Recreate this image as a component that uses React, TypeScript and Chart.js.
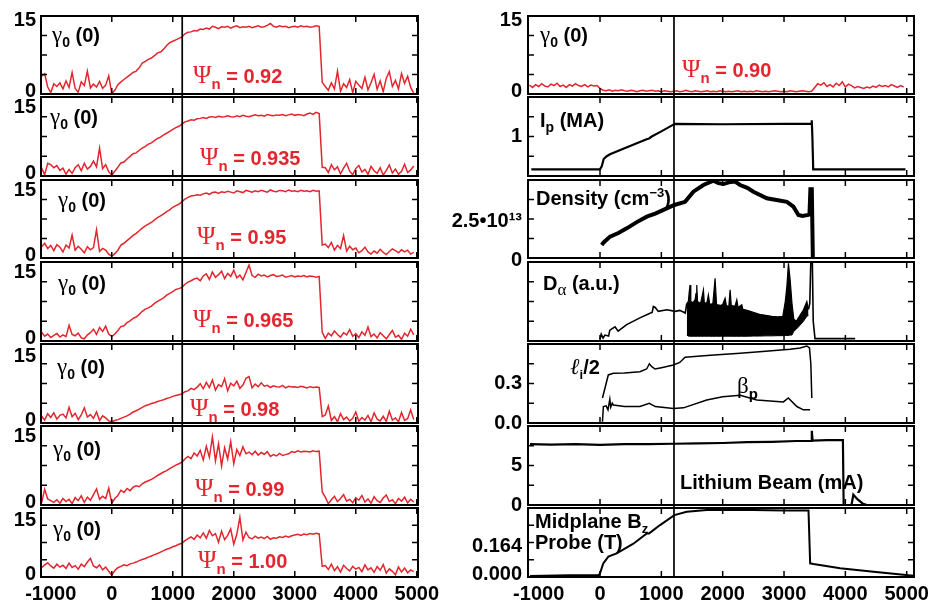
import React, { useEffect, useRef } from "react";
import { Chart, registerables } from "chart.js";

Chart.register(...registerables);

const RED = "#e3262e";
const SANS = '"Liberation Sans", Arial, Helvetica, sans-serif';
const SERIF = '"Liberation Serif", "Times New Roman", serif';

// ---------------- DATA ----------------
// sample times (ms) of the gamma0(0) traces
const gammaTimes = [
  -1150, -1100, -1050, -1000, -950, -900, -850, -800, -750, -700, -650, -600, -550, -500, -450, -400, -350, -300, -250, -200, -150, -100, -50,
  0,
  50, 100, 150, 200, 250, 300, 350, 400, 450, 500, 550, 600, 650, 700, 750, 800, 850, 900, 950, 1000, 1050, 1100, 1150,
  1200, 1250, 1300, 1350, 1400, 1450, 1500, 1550, 1600, 1650, 1700, 1750, 1800, 1850, 1900, 1950, 2000, 2050, 2100, 2150, 2200, 2250,
  2300, 2350, 2400, 2450, 2500, 2550, 2600, 2650, 2700, 2750, 2800, 2850, 2900, 2950, 3000, 3050, 3100, 3150, 3200, 3250, 3300, 3350, 3400,
  3450,
  3500, 3550, 3600, 3650, 3700, 3750, 3800, 3850, 3900, 3950, 4000, 4050, 4100, 4150, 4200, 4250, 4300, 4350, 4400, 4450, 4500, 4550,
  4600, 4650, 4700, 4750, 4800, 4850, 4900, 4950,
];

const gamma092 = [
  3.8, 4.3, 1.5, 0.3, 2.2, 1.6, 2.4, 1.1, 2.8, 1.4, 4.6, 1.2, 0.4, 2.6, 1.8, 4.9, 1.3, 2.1, 1.5, 2.7, 1.2, 1.9, 3.9,
  0.1,
  0.8, 2.0, 2.6, 3.1, 3.6, 4.1, 4.6, 4.9, 5.6, 6.6, 7.0, 7.4, 7.7, 8.2, 8.8, 9.0, 9.6, 10.4, 11.0, 11.3, 11.6, 11.9, 12.2,
  12.9, 13.2, 13.3, 13.6, 13.5, 13.9, 13.8, 14.1, 13.9, 14.5, 14.3, 14.0, 14.4, 14.3, 14.5, 14.1, 14.4, 14.6, 14.2, 14.4, 14.3, 14.5,
  14.2, 14.4, 14.6, 14.3, 14.4, 14.7, 15.1, 14.5, 14.3, 14.6, 14.4, 14.5, 14.2, 14.4, 14.5, 14.3, 14.6, 14.4, 14.5, 14.3, 14.4, 14.6, 14.5,
  2.5,
  1.6, 0.8, 2.4, 1.1, 4.9, 0.6, 2.2, 1.4, 3.1, 0.3, 2.7, 1.9, 1.2, 3.6, 0.9, 2.4, 4.2, 1.0, 2.8, 0.5, 3.4, 4.8, 1.6, 2.9, 1.1, 4.4, 2.3, 3.8, 1.4, 0.2,
];
const gamma0935 = [
  1.8, 0.3, 2.9, 2.6, 1.9, 2.4, 1.3, 1.8, 0.4, 1.5, 0.6, 1.9, 2.6, 1.2, 2.9, 1.6, 2.2, 3.4, 2.1, 6.4, 1.7, 2.6, 1.0,
  0.2,
  1.1, 2.0, 3.0, 3.2, 3.9, 4.5, 5.1, 5.3, 5.9, 6.4, 6.8, 7.3, 7.6, 8.1, 8.6, 8.9, 9.4, 9.8, 10.2, 10.7, 11.1, 11.4, 11.9,
  12.4, 12.6, 12.9, 12.8, 13.1, 13.2, 13.4, 13.2, 13.5, 13.6, 13.4, 13.7, 13.5, 13.6, 13.8, 13.6, 13.5, 13.8, 13.6, 13.9, 13.7, 13.6,
  13.8, 14.0, 13.8, 13.9, 13.7, 14.1, 13.9, 13.8, 14.0, 13.9, 14.1, 13.8, 14.0, 14.2, 13.9, 14.1, 14.0, 13.8, 14.2, 14.4, 14.1, 14.6, 14.3,
  2.0,
  1.9, 0.8, 2.6, 1.4, 2.1, 0.5, 1.8, 2.9, 1.1, 0.3, 1.7, 2.4, 0.9, 1.5, 0.4, 2.2, 1.2, 0.6, 1.9, 0.2, 1.3, 2.5, 0.7, 1.6, 0.4, 1.1, 2.7, 0.8, 1.4, 2.3,
];
const gamma095 = [
  2.6, 3.4, 2.2, 2.9, 1.7, 3.1, 2.5, 1.4, 3.0, 2.3, 5.3, 1.8, 2.7, 2.0, 1.2, 2.6, 1.9, 2.4, 6.5, 1.5, 2.2, 1.8, 0.9,
  0.4,
  1.0, 1.8, 3.0, 3.4, 4.0, 4.6, 5.2, 5.7, 6.3, 6.9, 7.4, 7.8, 8.2, 8.8, 9.3, 9.7, 10.2, 10.7, 11.1, 11.7, 12.1, 12.4, 13.0,
  13.6, 14.0, 14.3, 14.4, 14.6, 14.5, 14.8, 15.0, 14.7, 15.1, 15.2, 14.9, 15.3, 15.1, 15.4, 15.2, 15.0, 15.5, 15.3, 15.1, 15.6, 15.4,
  15.2, 15.5, 15.3, 15.6, 15.4, 15.2, 15.7, 15.4, 15.3, 15.6, 15.5, 15.3, 15.7, 15.4, 15.5, 15.3, 15.6, 15.4, 15.5, 15.3, 15.6, 15.4, 15.5,
  3.0,
  3.2, 2.4, 3.6, 1.8, 2.9, 2.2, 5.2, 1.6, 2.7, 1.9, 2.3, 1.2, 1.7, 2.5, 1.4, 0.9, 1.6, 1.1, 2.0, 1.3, 0.8, 1.5, 2.1, 1.7, 1.2, 1.9, 1.4, 1.8, 0.9, 1.3,
];
const gamma0965 = [
  2.0, 1.1, 1.6, 0.8, 1.3, 1.7, 0.9, 1.4, 1.0, 3.6, 1.5, 1.2, 1.8, 0.7, 0.5, 1.4, 1.9, 2.7, 1.5, 3.1, 2.2, 3.4, 1.6,
  1.0,
  1.6, 2.4, 3.3, 3.5, 4.2, 4.6, 5.2, 5.5, 6.1, 6.8, 7.3, 7.6, 8.0, 8.6, 9.1, 9.5, 9.9, 10.5, 10.9, 11.3, 11.8, 12.0, 12.3,
  13.0, 13.5, 13.8, 14.2, 14.4, 13.8, 14.9, 15.4, 14.1, 15.8, 14.6, 15.2, 16.0, 14.3, 15.5, 14.8, 16.2, 14.5, 15.1, 14.0, 15.7, 17.4,
  15.0, 14.6, 15.3, 14.9, 15.1, 14.7, 15.0, 15.2, 14.8, 14.9, 15.1, 14.6, 14.8, 15.0, 14.7, 14.9, 14.8, 15.0, 14.7, 14.9, 14.8, 14.6, 14.8,
  2.0,
  0.6, 1.8, 1.2, 2.3, 1.5, 0.9, 1.9, 1.4, 2.6, 1.1, 1.7, 0.8, 2.1, 1.3, 3.2, 1.0, 1.6, 0.7, 1.9, 1.2, 0.5, 1.5, 2.4, 0.9, 1.3, 0.4, 1.8, 1.1, 2.7, 1.4,
];
const gamma098 = [
  1.6, 0.7, 2.2, 1.3, 2.4, 0.9, 1.8, 2.1, 1.2, 3.7, 1.5, 2.3, 0.8, 1.9, 3.6, 1.4, 2.0, 1.1, 2.6, 0.6, 1.7, 1.2, 0.5,
  0.3,
  0.6, 0.8, 1.1, 1.4, 1.7, 2.1, 2.6, 2.9, 3.3, 3.7, 4.1, 4.3, 4.6, 4.8, 5.1, 5.3, 5.5, 5.8, 6.0, 6.3, 6.5, 6.7, 6.9,
  7.4, 7.6, 8.2, 7.9, 8.5, 9.3, 8.1, 9.6, 8.4, 10.2, 7.8, 9.1, 8.6, 10.5, 7.6, 9.4, 8.8, 9.9, 8.2, 9.0, 10.6, 11.0,
  8.3, 9.2, 8.6, 9.5, 8.7, 8.9, 8.4, 8.8, 8.6, 8.5, 8.9, 8.3, 8.7, 8.5, 8.6, 8.4, 8.7, 8.5, 8.3, 8.6, 8.4, 8.5, 8.4,
  1.5,
  1.9, 4.0, 0.6, 1.5, 0.3, 2.2, 0.8, 1.4, 0.5, 1.1, 2.6, 0.4, 1.3, 0.7, 1.8, 0.3, 2.4, 0.9, 0.5, 1.6, 0.4, 2.8, 0.7, 1.2, 0.3, 2.5, 0.6, 1.0, 3.1, 0.8,
];
const gamma099 = [
  0.5, 3.6, 1.4, 1.0, 0.6, 1.2, 0.4, 1.5, 0.8, 1.3, 0.3, 1.7, 1.0, 2.1, 0.6, 1.8, 1.1, 2.4, 3.7, 1.3, 2.0, 1.5, 3.9,
  0.4,
  1.5, 2.2, 3.4, 2.9, 3.8, 3.3, 4.1, 4.4, 4.2, 4.9, 5.3, 5.6, 5.9, 6.3, 6.8, 7.2, 7.6, 7.9, 8.4, 8.8, 9.2, 9.5, 9.9,
  10.6, 11.2, 10.7, 12.0, 11.3, 12.6, 10.4, 13.5, 11.0, 15.7, 10.2, 14.1, 9.0, 13.2, 10.6, 14.6, 9.5, 12.8, 11.4, 13.4, 11.8, 12.2,
  11.6, 12.4, 11.5, 12.1, 11.7, 12.3, 11.2, 11.6, 11.3, 11.9, 11.4, 11.6, 11.8, 12.3, 12.1, 12.5, 12.2, 12.4, 12.3, 12.2, 12.5, 12.3, 12.4,
  3.0,
  1.8, 0.3, 1.2, 2.0, 0.8, 1.5, 2.4, 0.9, 1.3, 0.5, 1.7, 1.1, 2.2, 0.7, 1.4, 0.4, 1.9, 1.0, 0.6, 1.6, 2.3, 0.8, 1.2, 0.3, 1.5, 0.9, 1.8, 0.5, 1.3, 0.7,
];
const gamma100 = [
  2.6, 3.4, 4.0, 3.1, 2.5, 3.6, 2.8, 3.3, 2.4, 3.9, 2.7, 3.2, 2.2, 3.6, 2.9, 4.2, 5.2, 3.1, 2.6, 3.4, 2.0, 2.8, 1.6,
  0.5,
  1.8, 2.6, 3.0, 3.4, 3.2, 3.7, 3.9, 4.2, 4.6, 4.9, 5.2, 5.6, 5.9, 6.3, 6.6, 7.0, 7.4, 7.8, 8.1, 8.5, 8.8, 9.2, 9.5,
  10.2, 10.8, 11.3, 10.6, 11.8, 11.0, 12.4, 10.9, 13.1, 11.6, 12.2, 9.8, 12.9, 10.5, 11.7, 13.5, 9.2, 12.0, 16.8, 10.4, 12.6, 11.1,
  10.7, 11.5, 10.9, 11.2, 10.8, 11.4, 10.6, 11.0, 10.9, 11.3, 11.1, 11.5, 11.2, 11.6, 11.8, 12.0, 11.7, 12.1, 11.9, 12.2, 12.0, 12.3, 12.1,
  3.0,
  3.2, 2.1, 3.6, 1.8, 2.9, 1.4, 3.3, 2.4, 1.7, 3.0, 2.2, 2.7, 1.5, 3.4, 2.0, 2.6, 1.3, 2.9, 1.9, 3.5, 1.1, 2.3, 1.6, 0.6, 2.8, 1.4, 2.5, 1.2, 2.0, 1.5,
];
const gamma090 = [
  1.9, 1.4, 2.0, 1.6, 2.2, 1.7, 1.5, 2.1, 1.8, 2.3, 1.6, 1.9, 1.4, 2.0, 1.7, 2.2, 1.8, 1.6, 2.0, 1.5, 1.9, 1.7, 1.8,
  1.2,
  0.8, 0.7, 0.9, 0.6, 0.8, 0.7, 0.9, 0.7, 0.6, 0.8, 0.7, 0.5, 0.7, 0.8, 0.6, 0.7, 0.8, 0.6, 0.7, 0.5, 0.7, 0.6, 0.5,
  0.6, 0.7, 0.5, 0.6, 0.8, 0.6, 0.5, 0.7, 0.6, 0.5, 0.6, 0.7, 0.5, 0.6, 0.5, 0.7, 0.6, 0.5, 0.6, 0.5, 0.6, 0.7,
  0.5, 0.6, 0.5, 0.6, 0.5, 0.7, 0.6, 0.5, 0.6, 0.5, 0.6, 0.7, 0.6, 0.5, 0.6, 0.5, 0.7, 0.6, 0.5, 0.6, 0.7, 0.6, 0.5,
  0.6,
  1.4, 2.2, 1.9, 2.4, 1.6, 2.0, 1.5, 2.3, 1.8, 2.6, 1.5, 2.1, 1.8, 1.3, 1.6, 1.4, 1.2, 1.5, 1.3, 1.7, 1.4, 1.9, 1.6, 1.8, 1.5, 2.0, 1.7, 1.4, 1.8, 1.5,
];

const leftSeries = [gamma092, gamma0935, gamma095, gamma0965, gamma098, gamma099, gamma100];
const psiLabels = ["0.92", "0.935", "0.95", "0.965", "0.98", "0.99", "1.00"];

// plasma current (MA)
const ipTimes = [-1120, 0, 30, 60, 110, 163, 400, 600, 760, 800, 843, 1000, 1196, 1230, 2000, 3000, 3440, 3452, 3462, 3476, 4980];
const ipValues = [0.17, 0.17, 0.25, 0.43, 0.5, 0.55, 0.7, 0.83, 0.93, 0.95, 1.0, 1.13, 1.3, 1.32, 1.31, 1.32, 1.32, 1.41, 1.0, 0.17, 0.17];

// density (1e13 cm^-3)
const denTimes = [28, 60, 163, 300, 435, 600, 762, 900, 1088, 1212, 1387, 1522, 1686, 1849, 1930, 2012, 2100, 2202, 2284, 2400, 2501, 2719, 2900, 3046, 3153, 3235, 3300, 3398, 3415, 3430, 3453, 3470];
const denValues = [0.83, 1.0, 1.37, 1.6, 1.9, 2.3, 2.65, 2.85, 3.18, 3.4, 3.6, 4.25, 4.68, 4.96, 4.8, 4.74, 4.85, 4.9, 4.68, 4.5, 4.25, 3.83, 3.7, 3.6, 3.29, 2.76, 2.7, 2.76, 2.8, 4.4, 4.4, 0];

// D-alpha (a.u.)
const dalphaPreTimes = [0, 20, 50, 80, 140, 160, 245, 295, 435, 650, 815, 850, 870, 900, 950, 1090, 1225, 1300, 1390, 1415];
const dalphaPreValues = [0.1, 0.35, 0.15, 0.3, 0.25, 0.55, 0.72, 0.5, 0.83, 1.17, 1.4, 1.45, 1.75, 1.7, 1.5, 1.58, 1.5, 1.55, 1.42, 1.9];
const dalphaBandTimes = [
  1415, 1440, 1455, 1468, 1480, 1520, 1550, 1565, 1577, 1590, 1640, 1686, 1700, 1740, 1767, 1790, 1840, 1876, 1900, 1960,
  2000, 2039, 2060, 2100, 2121, 2140, 2200, 2230, 2250, 2311, 2330, 2400, 2500, 2600, 2700, 2800, 2900, 2980, 3020, 3046,
  3072, 3100, 3130, 3160, 3200, 3260, 3317, 3372, 3399,
];
const dalphaBandUpper = [
  1.9, 2.0, 2.5, 2.84, 2.0, 1.95, 2.1, 2.4, 2.84, 2.0, 1.9, 2.59, 1.95, 1.9, 2.34, 1.85, 1.9, 3.18, 1.85, 1.8,
  1.85, 2.17, 1.8, 1.75, 2.59, 1.8, 1.75, 2.09, 1.7, 1.84, 1.6, 1.55, 1.45, 1.35, 1.3, 1.25, 1.22, 1.25, 2.0, 2.76,
  3.93, 3.1, 1.9, 1.1, 1.0, 1.3, 1.58, 2.0, 1.6,
];
const dalphaBandLower = [
  0.3, 0.25, 0.24, 0.24, 0.24, 0.24, 0.24, 0.24, 0.24, 0.24, 0.24, 0.24, 0.24, 0.24, 0.24, 0.24, 0.24, 0.24, 0.24, 0.24,
  0.24, 0.24, 0.24, 0.24, 0.24, 0.24, 0.24, 0.24, 0.24, 0.24, 0.24, 0.24, 0.25, 0.25, 0.26, 0.26, 0.27, 0.27, 0.28, 0.28,
  0.28, 0.3, 0.3, 0.5, 0.6, 0.8, 1.0, 1.25, 1.3,
];
const dalphaPostTimes = [3399, 3420, 3436, 3442, 3462, 3476, 3505, 3600, 3800, 4000, 4160];
const dalphaPostValues = [1.6, 1.9, 3.95, 3.95, 3.95, 1.0, 0.12, 0.12, 0.13, 0.12, 0.12];

// internal inductance li/2 and poloidal beta
const liTimes = [40, 135, 217, 400, 650, 760, 805, 840, 897, 1000, 1196, 1300, 1387, 1800, 2285, 2700, 3100, 3263, 3372, 3415, 3437, 3453];
const liValues = [0.19, 0.365, 0.377, 0.38, 0.39, 0.41, 0.45, 0.43, 0.41, 0.42, 0.44, 0.46, 0.5, 0.515, 0.53, 0.545, 0.56, 0.57, 0.585, 0.57, 0.45, 0.19];
const betaTimes = [40, 55, 100, 130, 160, 175, 200, 217, 400, 650, 805, 900, 1196, 1360, 1740, 2000, 2285, 2556, 2990, 3070, 3209, 3315, 3425];
const betaValues = [0.01, 0.125, 0.13, 0.1, 0.18, 0.12, 0.15, 0.137, 0.125, 0.125, 0.15, 0.125, 0.11, 0.115, 0.175, 0.2, 0.21, 0.175, 0.16, 0.19, 0.125, 0.1, 0.1];

// lithium beam current (mA)
const beamTimes = [-1142, -800, -400, 0, 400, 800, 1200, 1600, 2000, 2400, 2800, 3200, 3440, 3453, 3466, 3700, 3960, 3972, 4100, 4130, 4200, 4280, 4350];
const beamValues = [7.7, 7.65, 7.7, 7.6, 7.7, 7.7, 7.75, 7.8, 7.85, 7.95, 8.0, 8.1, 8.1, 9.4, 8.15, 8.2, 8.2, 0, 0, 1.3, 0.7, 0.2, 0];

// midplane Bz probe (T)
const bzTimes = [-1140, -500, -20, 0, 53, 136, 272, 544, 762, 800, 979, 1212, 1414, 1740, 2500, 3000, 3399, 3426, 3480, 3915, 4459, 5111];
const bzValues = [0.006, 0.01, 0.01, 0.022, 0.082, 0.122, 0.142, 0.2, 0.262, 0.262, 0.312, 0.372, 0.392, 0.402, 0.402, 0.4, 0.4, 0.082, 0.078, 0.052, 0.032, 0.008];

const xLabelTicks = [-1000, 0, 1000, 2000, 3000, 4000, 5000];
const xInnerTicks = [0, 1000, 2000, 3000, 4000, 5000];

// ---------------- LAYOUT ----------------
const ROW_TOPS = [16, 97, 180, 262, 344, 426, 508];
const ROW_BOTTOMS = [94, 176, 258, 341, 423, 505, 577];
const PAD_V = 20;
const X_AXIS_H = 27;

type ColKey = "L" | "R";
const COLS = {
  L: { canvasLeft: 0, areaLeft: 41, areaRight: 418, padRight: 32, tickPad: 5, xMin: -1160, xMax: 5020, marker: 1155 },
  R: { canvasLeft: 440, areaLeft: 528, areaRight: 914, padRight: 23, tickPad: 6, xMin: -1174, xMax: 5119, marker: 1206 },
};

type YLabel = { value: number; text: string };
type PanelSpec = {
  col: ColKey;
  row: number;
  yMax: number;
  yLabels: YLabel[];
  labelOffset: number;
  datasets: any[];
};

const zip = (t: number[], v: number[]) => t.map((x, i) => ({ x, y: v[i] }));
const line = (t: number[], v: number[], color = "#000", width = 1.6, extra: any = {}) => ({
  data: zip(t, v),
  borderColor: color,
  backgroundColor: color,
  borderWidth: width,
  pointRadius: 0,
  fill: false,
  tension: 0,
  ...extra,
});

const leftYMax = [16.7, 18.1, 18.0, 18.1, 18.7, 18.2, 19.4];
const gammaYLabels: YLabel[] = [
  { value: 0, text: "0" },
  { value: 15, text: "15" },
];

const PANELS: PanelSpec[] = [
  ...leftSeries.map((s, i) => ({
    col: "L" as ColKey,
    row: i,
    yMax: leftYMax[i],
    yLabels: gammaYLabels,
    labelOffset: -3,
    datasets: [line(gammaTimes, s, RED, 1.5)],
  })),
  { col: "R", row: 0, yMax: 16.6, yLabels: gammaYLabels, labelOffset: -3, datasets: [line(gammaTimes, gamma090, RED, 1.5)] },
  { col: "R", row: 1, yMax: 2, yLabels: [{ value: 1, text: "1" }], labelOffset: 0, datasets: [line(ipTimes, ipValues, "#000", 2.2)] },
  {
    col: "R", row: 2, yMax: 5, labelOffset: 2,
    yLabels: [{ value: 0, text: "0" }, { value: 2.5, text: "2.5\u202210\u00b9\u00b3" }],
    datasets: [line(denTimes, denValues, "#000", 4)],
  },
  {
    col: "R", row: 3, yMax: 4, labelOffset: 0, yLabels: [{ value: 0, text: "" }],
    datasets: [
      line(dalphaBandTimes, dalphaBandUpper, "#000", 1.2, { fill: "+1", backgroundColor: "#000" }),
      line(dalphaBandTimes, dalphaBandLower, "#000", 1),
      line(dalphaPreTimes, dalphaPreValues, "#000", 1.6),
      line(dalphaPostTimes, dalphaPostValues, "#000", 1.6),
    ],
  },
  {
    col: "R", row: 4, yMax: 0.6, labelOffset: 0,
    yLabels: [{ value: 0, text: "0.0" }, { value: 0.3, text: "0.3" }],
    datasets: [line(liTimes, liValues, "#000", 1.5), line(betaTimes, betaValues, "#000", 1.5)],
  },
  {
    col: "R", row: 5, yMax: 10, labelOffset: 0,
    yLabels: [{ value: 0, text: "0" }, { value: 5, text: "5" }],
    datasets: [line(beamTimes, beamValues, "#000", 2.2)],
  },
  {
    col: "R", row: 6, yMax: 0.4145, labelOffset: -3,
    yLabels: [{ value: 0, text: "0.000" }, { value: 0.164, text: "0.164" }],
    datasets: [line(bzTimes, bzValues, "#000", 2)],
  },
];

function geometry(p: PanelSpec) {
  const c = COLS[p.col];
  const last = p.row === 6;
  const top = ROW_TOPS[p.row] - PAD_V;
  const bottomEdge = last ? 604 : ROW_BOTTOMS[p.row] + PAD_V;
  return {
    left: c.canvasLeft,
    top,
    width: c.areaRight + c.padRight - c.canvasLeft,
    height: bottomEdge - top,
    last,
  };
}

function decorPlugin(p: PanelSpec) {
  const c = COLS[p.col];
  const extend = p.row < 6 ? ROW_TOPS[p.row + 1] - ROW_BOTTOMS[p.row] : 0;
  return {
    id: "panelDecor",
    afterDatasetsDraw(chart: any) {
      const { ctx, chartArea: a, scales } = chart;
      const xs = scales.x;
      const ys = scales.y;
      const seg = (x1: number, y1: number, x2: number, y2: number) => {
        ctx.beginPath();
        ctx.moveTo(x1, y1);
        ctx.lineTo(x2, y2);
        ctx.stroke();
      };
      ctx.save();
      ctx.strokeStyle = "#000";
      ctx.lineWidth = 1.5;
      for (const t of xInnerTicks) {
        const px = xs.getPixelForValue(t);
        if (px < a.left + 2 || px > a.right) continue;
        seg(px, a.bottom, px, a.bottom - 6);
        seg(px, a.top, px, a.top + 6);
      }
      for (let k = 1; k < 4; k++) {
        const py = ys.getPixelForValue(ys.min + ((ys.max - ys.min) * k) / 4);
        seg(a.left, py, a.left + 6, py);
        seg(a.right, py, a.right - 6, py);
      }
      ctx.lineWidth = 1.7;
      const mx = xs.getPixelForValue(c.marker);
      seg(mx, a.top, mx, a.bottom + extend);
      ctx.lineWidth = 2;
      ctx.strokeRect(a.left, a.top, a.right - a.left, a.bottom - a.top);
      ctx.restore();
    },
  };
}

function buildConfig(p: PanelSpec): any {
  const c = COLS[p.col];
  const g = geometry(p);
  const tickFont = { family: SANS, size: 20, weight: "bold" as const };
  const yWidth = c.areaLeft - c.canvasLeft;
  return {
    type: "line",
    data: { datasets: p.datasets },
    options: {
      responsive: false,
      maintainAspectRatio: false,
      animation: false,
      devicePixelRatio: 1,
      events: [],
      layout: { padding: { left: 0, right: c.padRight, top: PAD_V, bottom: g.last ? 0 : PAD_V } },
      plugins: { legend: { display: false }, tooltip: { enabled: false }, title: { display: false } },
      scales: {
        x: {
          type: "linear",
          min: c.xMin,
          max: c.xMax,
          display: g.last,
          afterBuildTicks: (s: any) => {
            s.ticks = xLabelTicks.map((v) => ({ value: v }));
          },
          afterFit: (s: any) => {
            s.height = g.last ? X_AXIS_H : 0;
          },
          grid: { display: false, drawTicks: false },
          border: { display: false },
          ticks: {
            font: tickFont,
            color: "#000",
            padding: 5,
            maxRotation: 0,
            autoSkip: false,
            callback: (v: number) => String(v),
          },
        },
        y: {
          type: "linear",
          min: 0,
          max: p.yMax,
          afterBuildTicks: (s: any) => {
            s.ticks = p.yLabels.map((l) => ({ value: l.value }));
          },
          afterFit: (s: any) => {
            s.width = yWidth;
          },
          grid: { display: false, drawTicks: false },
          border: { display: false },
          ticks: {
            font: tickFont,
            color: "#000",
            padding: c.tickPad,
            labelOffset: p.labelOffset,
            autoSkip: false,
            callback: (v: number) => {
              const f = p.yLabels.find((l) => Math.abs(l.value - v) < 1e-9);
              return f ? f.text : "";
            },
          },
        },
      },
    },
    plugins: [decorPlugin(p)],
  };
}

function Panel({ spec }: { spec: PanelSpec }) {
  const ref = useRef<HTMLCanvasElement>(null);
  const g = geometry(spec);
  useEffect(() => {
    if (!ref.current) return;
    const chart = new Chart(ref.current, buildConfig(spec));
    return () => chart.destroy();
  }, []);
  return (
    <canvas
      ref={ref}
      width={g.width}
      height={g.height}
      style={{ position: "absolute", left: g.left, top: g.top, width: g.width, height: g.height }}
    />
  );
}

// ---------------- TEXT ----------------
const gammaLabelPos = [[52, 35], [50, 117], [58, 200], [58, 283], [57, 367], [53, 449], [53, 529]];
const psiLabelPos = [[193, 75], [200, 157], [197, 236], [193, 319], [190, 408], [195, 488], [198, 560]];

const textBase: React.CSSProperties = {
  position: "absolute",
  fontFamily: SANS,
  fontWeight: 700,
  fontSize: 20,
  lineHeight: "20px",
  whiteSpace: "nowrap",
  color: "#000",
};
const greek: React.CSSProperties = { fontFamily: SERIF, fontWeight: 400, fontSize: 23 };
const subS = (fs: number, dy = 5): React.CSSProperties => ({ fontSize: fs, position: "relative", top: dy, lineHeight: 0 });
const supS = (fs: number, dy = -8): React.CSSProperties => ({ fontSize: fs, position: "relative", top: dy, lineHeight: 0 });

function T({ x, y, color, children }: { x: number; y: number; color?: string; children: React.ReactNode }) {
  return <div style={{ ...textBase, left: x, top: y - 10, color: color || "#000" }}>{children}</div>;
}

function Gamma({ x, y }: { x: number; y: number }) {
  return (
    <T x={x} y={y}>
      <span style={greek}>γ</span>
      <span style={subS(14)}>0</span> (0)
    </T>
  );
}

function Psi({ x, y, v }: { x: number; y: number; v: string }) {
  return (
    <T x={x} y={y} color={RED}>
      <span style={{ ...greek, fontSize: 25 }}>Ψ</span>
      <span style={subS(15, 6)}>n</span> = {v}
    </T>
  );
}

export default function App() {
  useEffect(() => {
    document.body.style.margin = "0";
  }, []);
  return (
    <div style={{ position: "fixed", left: 0, top: 0, width: 937, height: 604, background: "#fff", overflow: "hidden" }}>
      {PANELS.map((p, i) => (
        <Panel key={i} spec={p} />
      ))}
      {gammaLabelPos.map(([x, y], i) => (
        <Gamma key={"g" + i} x={x} y={y} />
      ))}
      {psiLabelPos.map(([x, y], i) => (
        <Psi key={"p" + i} x={x} y={y} v={psiLabels[i]} />
      ))}
      <Gamma x={540} y={35} />
      <Psi x={682} y={69} v="0.90" />
      <T x={540} y={120}>
        I<span style={subS(14)}>p</span> (MA)
      </T>
      <T x={536} y={198}>
        Density (cm<span style={supS(13)}>−3</span>)
      </T>
      <T x={543} y={283}>
        D<span style={{ ...subS(17), fontFamily: SERIF, fontWeight: 400 }}>α</span> (a.u.)
      </T>
      <T x={570} y={367}>
        <span style={{ ...greek, fontStyle: "italic" }}>ℓ</span>
        <span style={subS(13)}>i</span>/2
      </T>
      <T x={737} y={386}>
        <span style={greek}>β</span>
        <span style={subS(15, 6)}>p</span>
      </T>
      <T x={680} y={482}>
        Lithium Beam (mA)
      </T>
      <T x={535} y={521}>
        Midplane B<span style={subS(13)}>z</span>
      </T>
      <T x={535} y={542}>
        Probe (T)
      </T>
    </div>
  );
}
